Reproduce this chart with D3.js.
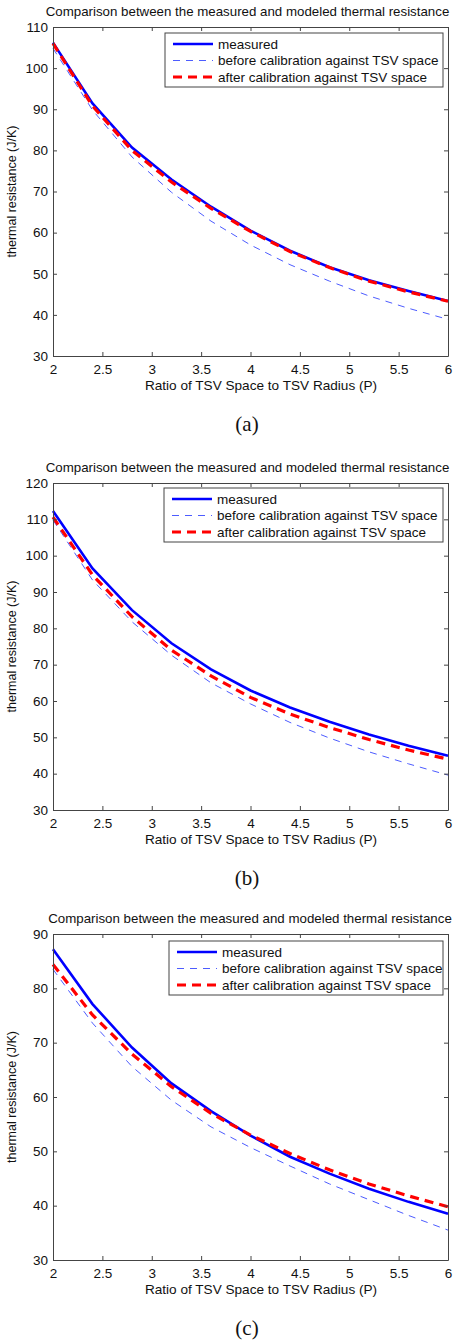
<!DOCTYPE html>
<html>
<head>
<meta charset="UTF-8">
<script src="https://cdn.jsdelivr.net/npm/d3@7"></script>
<style>
  body { margin: 0; background: #fff; }
  text { font-family: "Liberation Sans", Arial, sans-serif; fill: #111; }
  .caption { font-family: "Liberation Serif", "Times New Roman", serif; }
</style>
</head>
<body>
<svg width="454" height="1341"></svg>
<script>
// x positions (P) shared by all three panels
var ratios = [2.0, 2.4, 2.8, 3.2, 3.6, 4.0, 4.4, 4.8, 5.2, 5.6, 6.0];
var xTicks = [2, 2.5, 3, 3.5, 4, 4.5, 5, 5.5, 6];

// panel (a)
var measuredA = [106.2, 91.4, 80.7, 72.9, 66.3, 60.5, 55.6, 51.6, 48.4, 45.8, 43.4];
var beforeA   = [104.8, 89.8, 78.4, 69.8, 62.8, 57.0, 52.2, 48.2, 44.6, 41.6, 38.9];
var afterA    = [106.0, 90.8, 80.0, 72.3, 65.9, 60.3, 55.4, 51.5, 48.2, 45.6, 43.3];
var yTicksA   = [30, 40, 50, 60, 70, 80, 90, 100, 110];

// panel (b)
var measuredB = [112.3, 96.5, 85.0, 75.9, 68.7, 62.9, 58.2, 54.3, 50.8, 47.7, 44.9];
var beforeB   = [109.8, 93.3, 81.8, 72.6, 65.0, 59.2, 54.1, 49.8, 46.0, 42.7, 39.6];
var afterB    = [110.6, 94.7, 83.2, 74.0, 66.9, 61.0, 56.4, 52.7, 49.4, 46.5, 44.0];
var yTicksB   = [30, 40, 50, 60, 70, 80, 90, 100, 110, 120];

// panel (c)
var measuredC = [87.2, 77.1, 69.1, 62.5, 57.4, 52.9, 49.0, 45.9, 43.1, 40.7, 38.5];
var beforeC   = [83.5, 73.6, 65.6, 59.4, 54.5, 50.7, 47.3, 44.0, 41.1, 38.2, 35.5];
var afterC    = [84.4, 75.1, 67.9, 61.9, 57.0, 53.0, 49.6, 46.6, 44.0, 41.8, 39.8];
var yTicksC   = [30, 40, 50, 60, 70, 80, 90];

var seriesNames = ["measured", "before calibration against TSV space", "after calibration against TSV space"];
var titleText = "Comparison between the measured and modeled thermal resistance";
var xLabel = "Ratio of TSV Space to TSV Radius (P)";
var yLabel = "thermal resistance (J/K)";

var styles = [
  { color: "#0000ff", width: 2.6, dash: null },
  { color: "#4d5cff", width: 1, dash: "7,6" },
  { color: "#ff0000", width: 3.2, dash: "9,6" }
];

var panels = [
  { top: 27, bottom: 356, yMax: 110, yTicks: yTicksA, data: [measuredA, beforeA, afterA], legendX: 165, legendTop: 33, titleX: 247.5, caption: "(a)" },
  { top: 483, bottom: 810, yMax: 120, yTicks: yTicksB, data: [measuredB, beforeB, afterB], legendX: 164, legendTop: 488, titleX: 247.5, caption: "(b)" },
  { top: 934, bottom: 1260, yMax: 90, yTicks: yTicksC, data: [measuredC, beforeC, afterC], legendX: 169, legendTop: 941, titleX: 250, caption: "(c)" }
];

var svg = d3.select("svg");
var left = 53, right = 448;

panels.forEach(function(p) {
  var x = d3.scaleLinear().domain([2, 6]).range([left, right]);
  var y = d3.scaleLinear().domain([30, p.yMax]).range([p.bottom, p.top]);
  var g = svg.append("g");

  // title
  g.append("text")
    .attr("x", p.titleX).attr("y", p.top - 11)
    .attr("text-anchor", "middle").attr("font-size", "13.3px")
    .text(titleText);

  // curves
  var line = d3.line()
    .x(function(d, i) { return x(ratios[i]); })
    .y(function(d) { return y(d); });

  p.data.forEach(function(vals, k) {
    g.append("path")
      .datum(vals)
      .attr("d", line)
      .attr("fill", "none")
      .attr("stroke", styles[k].color)
      .attr("stroke-width", styles[k].width)
      .attr("stroke-dasharray", styles[k].dash);
  });

  // axes with inward ticks, mirrored on top and right
  var ax = g.append("g").attr("transform", "translate(0," + p.bottom + ")")
    .call(d3.axisBottom(x).tickValues(xTicks).tickSizeInner(-4).tickSizeOuter(0).tickPadding(8).tickFormat(d3.format("")));
  var axTop = g.append("g").attr("transform", "translate(0," + p.top + ")")
    .call(d3.axisTop(x).tickValues(xTicks).tickSizeInner(-4).tickSizeOuter(0).tickFormat(""));
  var ay = g.append("g").attr("transform", "translate(" + left + ",0)")
    .call(d3.axisLeft(y).tickValues(p.yTicks).tickSizeInner(-4).tickSizeOuter(0).tickPadding(5));
  var ayR = g.append("g").attr("transform", "translate(" + right + ",0)")
    .call(d3.axisRight(y).tickValues(p.yTicks).tickSizeInner(-4).tickSizeOuter(0).tickFormat(""));

  [ax, axTop, ay, ayR].forEach(function(a) {
    a.selectAll("path, line").attr("stroke", "#444");
    a.selectAll("text").attr("font-size", "13.5px").attr("fill", "#111")
      .attr("font-family", "'Liberation Sans', Arial, sans-serif");
  });

  // axis labels
  g.append("text")
    .attr("x", 261).attr("y", p.bottom + 34)
    .attr("text-anchor", "middle").attr("font-size", "13.6px")
    .text(xLabel);
  g.append("text")
    .attr("transform", "translate(16," + (p.top + p.bottom) / 2 + ") rotate(-90)")
    .attr("text-anchor", "middle").attr("font-size", "12.5px")
    .text(yLabel);

  // legend
  var lg = g.append("g").attr("transform", "translate(" + p.legendX + "," + p.legendTop + ")");
  lg.append("rect")
    .attr("width", 443 - p.legendX).attr("height", 54)
    .attr("fill", "#fff").attr("stroke", "#444").attr("stroke-width", 1);
  seriesNames.forEach(function(name, k) {
    var cy = 11 + k * 16.5;
    lg.append("line")
      .attr("x1", 8).attr("x2", 48).attr("y1", cy).attr("y2", cy)
      .attr("stroke", styles[k].color)
      .attr("stroke-width", styles[k].width)
      .attr("stroke-dasharray", styles[k].dash);
    lg.append("text")
      .attr("x", 53).attr("y", cy + 4.5)
      .attr("font-size", "13.5px")
      .text(name);
  });

  // sub-figure caption
  g.append("text")
    .attr("class", "caption")
    .attr("x", 247).attr("y", p.bottom + 75)
    .attr("text-anchor", "middle").attr("font-size", "21px")
    .text(p.caption);
});
</script>
</body>
</html>
